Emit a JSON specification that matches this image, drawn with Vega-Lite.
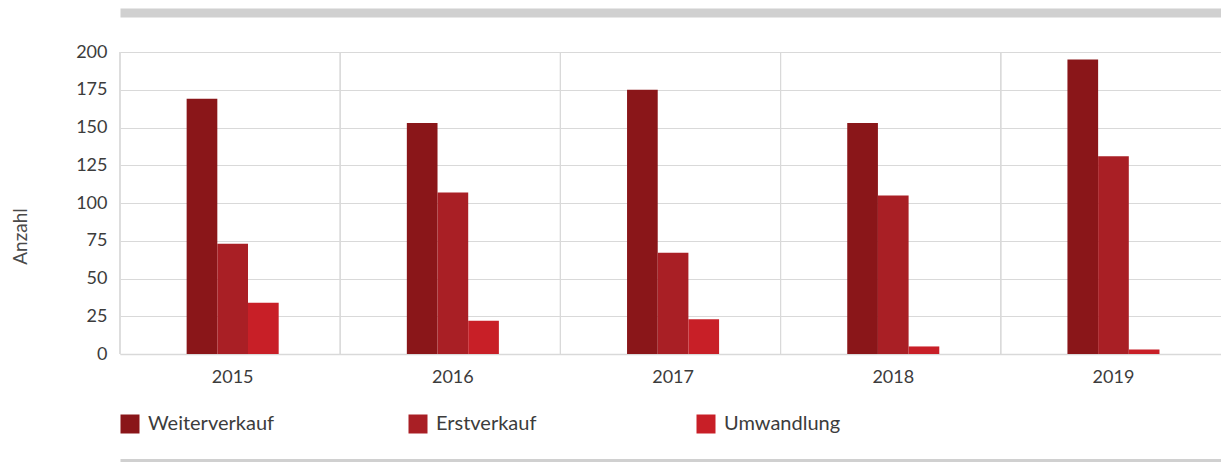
{
  "$schema": "https://vega.github.io/schema/vega-lite/v6.json",
  "autosize": {"type": "none"},
  "padding": {"left": 120, "top": 52, "right": 0, "bottom": 109},
  "width": 1101,
  "height": 302,
  "background": "white",
  "config": {
    "font": "Lato",
    "view": {"stroke": null}
  },
  "data": {
    "values": [
      {"Jahr": "2015", "Art": "Weiterverkauf", "Anzahl": 169},
      {"Jahr": "2015", "Art": "Erstverkauf", "Anzahl": 73},
      {"Jahr": "2015", "Art": "Umwandlung", "Anzahl": 34},
      {"Jahr": "2016", "Art": "Weiterverkauf", "Anzahl": 153},
      {"Jahr": "2016", "Art": "Erstverkauf", "Anzahl": 107},
      {"Jahr": "2016", "Art": "Umwandlung", "Anzahl": 22},
      {"Jahr": "2017", "Art": "Weiterverkauf", "Anzahl": 175},
      {"Jahr": "2017", "Art": "Erstverkauf", "Anzahl": 67},
      {"Jahr": "2017", "Art": "Umwandlung", "Anzahl": 23},
      {"Jahr": "2018", "Art": "Weiterverkauf", "Anzahl": 153},
      {"Jahr": "2018", "Art": "Erstverkauf", "Anzahl": 105},
      {"Jahr": "2018", "Art": "Umwandlung", "Anzahl": 5},
      {"Jahr": "2019", "Art": "Weiterverkauf", "Anzahl": 195},
      {"Jahr": "2019", "Art": "Erstverkauf", "Anzahl": 131},
      {"Jahr": "2019", "Art": "Umwandlung", "Anzahl": 3}
    ]
  },
  "resolve": {"scale": {"x": "independent"}, "axis": {"x": "independent"}},
  "layer": [
    {
      "mark": {"type": "rule", "color": "#d9d9d9", "strokeWidth": 1},
      "encoding": {
        "x": {
          "field": "Jahr", "type": "nominal", "bandPosition": 0,
          "scale": {"paddingInner": 0, "paddingOuter": 0},
          "axis": {
            "orient": "top", "title": null, "labels": false, "ticks": false, "grid": false,
            "domain": true, "domainColor": "#d0d0d0", "domainWidth": 9, "offset": 39.5
          }
        }
      }
    },
    {
      "mark": {"type": "rule", "opacity": 0},
      "encoding": {
        "x": {
          "field": "Jahr", "type": "nominal",
          "scale": {"paddingInner": 0, "paddingOuter": 0},
          "axis": {
            "orient": "bottom", "title": null, "labels": false, "ticks": false, "grid": false,
            "domain": true, "domainColor": "#d0d0d0", "domainWidth": 3, "offset": 106
          }
        }
      }
    },
    {
      "mark": {"type": "bar"},
      "encoding": {
        "x": {
          "field": "Jahr", "type": "nominal",
          "scale": {"paddingInner": 0.582, "paddingOuter": 0.291, "align": 0.52},
          "axis": {
            "orient": "bottom", "title": null, "labelAngle": 0, "ticks": false, "grid": false,
            "domain": true, "domainColor": "#d9d9d9", "domainWidth": 1.5,
            "labelFontSize": 18, "labelColor": "#3c3c3c", "labelPadding": 14
          }
        },
        "xOffset": {
          "field": "Art", "type": "nominal",
          "sort": ["Weiterverkauf", "Erstverkauf", "Umwandlung"],
          "scale": {"paddingInner": 0, "paddingOuter": 0}
        },
        "y": {
          "field": "Anzahl", "type": "quantitative",
          "scale": {"domain": [0, 200], "nice": false},
          "axis": {
            "values": [0, 25, 50, 75, 100, 125, 150, 175, 200],
            "grid": true, "gridColor": "#d9d9d9", "domain": false, "ticks": false,
            "labelFontSize": 18, "labelColor": "#3c3c3c", "labelPadding": 13,
            "title": "Anzahl", "titleFontSize": 19, "titleFontWeight": "normal", "titleColor": "#4a4a4a",
            "titleX": -90, "titleY": 184
          }
        },
        "color": {
          "field": "Art", "type": "nominal",
          "sort": ["Weiterverkauf", "Erstverkauf", "Umwandlung"],
          "scale": {
            "domain": ["Weiterverkauf", "Erstverkauf", "Umwandlung"],
            "range": ["#8a1619", "#a91f25", "#c81f27"]
          },
          "legend": {
            "orient": "none", "legendX": 0, "legendY": 362,
            "direction": "horizontal", "columns": 3, "gridAlign": "all",
            "title": null, "symbolType": "square", "symbolSize": 361, "symbolStrokeWidth": 0,
            "labelFontSize": 20, "labelColor": "#3c3c3c", "labelOffset": 8, "columnPadding": 133
          }
        }
      }
    }
  ]
}
